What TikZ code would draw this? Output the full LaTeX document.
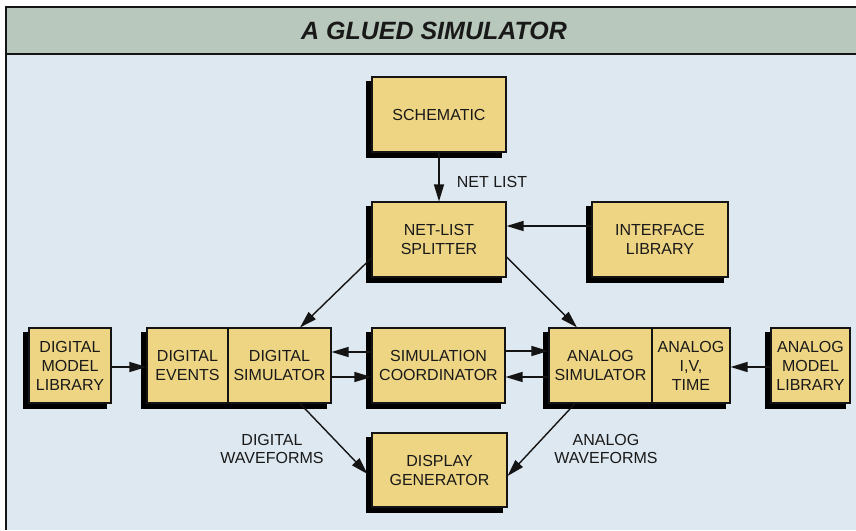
\documentclass[tikz,border=0pt]{standalone}
\usepackage{fontspec}
\setmainfont{Liberation Sans}
\usetikzlibrary{arrows.meta}
\definecolor{bgc}{RGB}{222,232,240}
\definecolor{barc}{RGB}{184,200,188}
\definecolor{boxc}{RGB}{238,213,132}
\definecolor{txt}{RGB}{25,25,25}
\definecolor{linec}{RGB}{20,20,20}
\pgfdeclarelayer{bg0}
\pgfdeclarelayer{background}
\pgfsetlayers{bg0,background,main}
\newcommand{\shadowof}[2]{\fill[black] ([shift={(-5pt,-5pt)}]#1.south west) rectangle ([shift={(-5pt,-5pt)}]#2.north east);}
\begin{document}
\begin{tikzpicture}[x=1pt,y=-1pt,
  blk/.style={draw=linec, line width=1.1pt, fill=boxc, minimum height=75pt,
    inner sep=0pt, align=center, text=txt,
    font=\fontsize{16}{19}\selectfont},
  arr/.style={draw=linec, line width=1.4pt, -{Triangle[length=17pt,width=10pt]}},
  lbl/.style={align=center, text=txt, font=\fontsize{16}{18.5}\selectfont, inner sep=0pt}]
\useasboundingbox (0,0) rectangle (856,530);
% boxes
\node[blk, minimum width=134pt] (sch) at (439,114.5) {SCHEMATIC};
\node[blk, minimum width=134pt] (spl) at (439,239.5) {NET-LIST\\SPLITTER};
\node[blk, minimum width=136pt] (ifl) at (660,239.5) {INTERFACE\\LIBRARY};
\node[blk, minimum width=82pt] (dml) at (70,365.5) {DIGITAL\\MODEL\\LIBRARY};
\node[blk, minimum width=103pt] (ds) at (279.5,365.5) {DIGITAL\\SIMULATOR};
\node[blk, minimum width=81pt] (de) at (187.5,365.5) {DIGITAL\\EVENTS};
\node[blk, minimum width=133pt] (sc) at (438.5,365.5) {SIMULATION\\COORDINATOR};
\node[blk, minimum width=78pt] (aivt) at (691,365.5) {ANALOG\\I,V,\\TIME};
\node[blk, minimum width=103pt] (as) at (600.5,365.5) {ANALOG\\SIMULATOR};
\node[blk, minimum width=79pt] (aml) at (810.5,365.5) {ANALOG\\MODEL\\LIBRARY};
\node[blk, minimum width=135pt, minimum height=74pt] (dg) at (439.5,470) {DISPLAY\\GENERATOR};
% shadows and frame
\begin{pgfonlayer}{background}
\shadowof{sch}{sch}
\shadowof{spl}{spl}
\shadowof{ifl}{ifl}
\shadowof{dml}{dml}
\shadowof{de}{ds}
\shadowof{sc}{sc}
\shadowof{as}{aivt}
\shadowof{aml}{aml}
\shadowof{dg}{dg}
\end{pgfonlayer}
\begin{pgfonlayer}{bg0}
\fill[white] (0,0) rectangle (856,530);
\fill[bgc] (6,7) rectangle (856,530);
\fill[barc] (6,7) rectangle (856,54);
\draw[linec, line width=1.2pt] (856,7) -- (6,7) -- (6,530);
\draw[linec, line width=1.2pt] (6,54) -- (856,54);
\end{pgfonlayer}
\node[text=txt, font=\fontsize{25}{28}\selectfont\bfseries\itshape] (title) at (434,31) {A GLUED SIMULATOR};
% labels
\node[lbl] (nl) at (492,182) {NET LIST};
\node[lbl] (dw) at (272,449) {DIGITAL\\WAVEFORMS};
\node[lbl] (aw) at (606,449) {ANALOG\\WAVEFORMS};
% connectors
\draw[arr] (sch.south) -- (spl.north);
\draw[arr] ([yshift=13.5pt]ifl.west) -- ([yshift=13.5pt]spl.east);
\draw[arr] ([yshift=-18.5pt]spl.west) -- ([xshift=20.5pt]ds.north);
\draw[arr] ([yshift=-17.5pt]spl.east) -- ([xshift=-23.5pt]as.north);
\draw[arr] ([yshift=-1.5pt]dml.east) -- ([yshift=-1.5pt]de.west);
\draw[arr] ([yshift=13.5pt]sc.west) -- ([yshift=13.5pt]ds.east);
\draw[arr] ([yshift=-11.5pt]ds.east) -- ([yshift=-11.5pt]sc.west);
\draw[arr] ([yshift=14.5pt]sc.east) -- ([yshift=14.5pt]as.west);
\draw[arr] ([yshift=-11.5pt]as.west) -- ([yshift=-11.5pt]sc.east);
\draw[arr] ([yshift=-1.5pt]aml.west) -- ([yshift=-1.5pt]aivt.east);
\draw[arr] ([xshift=20.5pt]ds.south) -- ([xshift=-4pt,yshift=-4pt]dg.west);
\draw[arr] ([xshift=-25.5pt]as.south) -- ([yshift=-6pt]dg.east);
\end{tikzpicture}
\end{document}
